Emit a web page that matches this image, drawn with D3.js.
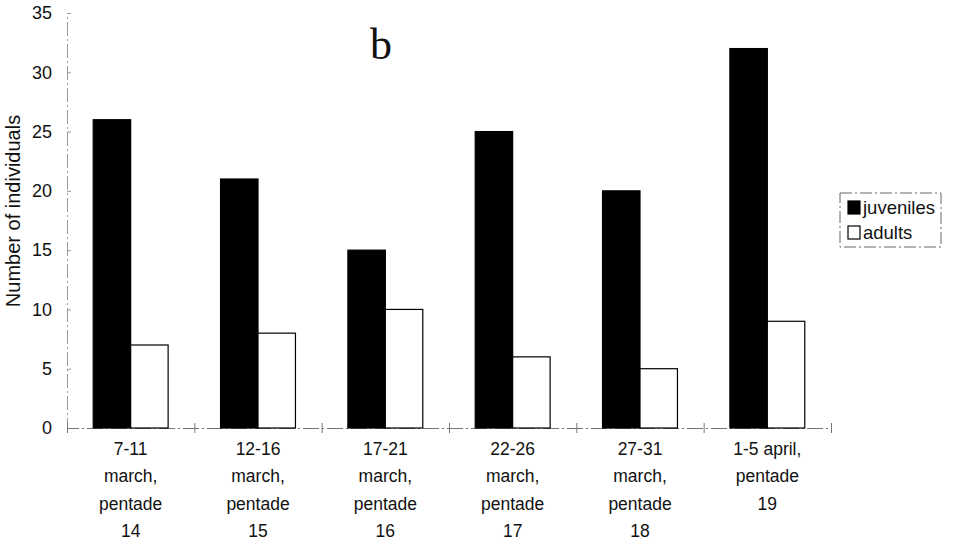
<!DOCTYPE html>
<html>
<head>
<meta charset="utf-8">
<script src="https://cdn.jsdelivr.net/npm/d3@7"></script>
<style>
body { margin: 0; background: #fff; }
svg { display: block; }
text { font-family: "Liberation Sans", Arial, sans-serif; fill: #111; }
</style>
</head>
<body>
<svg id="chart"></svg>
<script>
var width = 955, height = 541;
var categories = [
    ["7-11", "march,", "pentade", "14"],
    ["12-16", "march,", "pentade", "15"],
    ["17-21", "march,", "pentade", "16"],
    ["22-26", "march,", "pentade", "17"],
    ["27-31", "march,", "pentade", "18"],
    ["1-5 april,", "pentade", "19"]
];
var series = ["juveniles", "adults"];
var juveniles = [26, 21, 15, 25, 20, 32];
var adults = [7, 8, 10, 6, 5, 9];
var yTicks = [0, 5, 10, 15, 20, 25, 30, 35];
var fills = {juveniles: "#000", adults: "#fff"};

var m_left = 67, m_right = 831, m_top = 13, m_bottom = 428;

var svg = d3.select("#chart").attr("width", width).attr("height", height);

var keys = categories.map(function(c, i){ return "c" + i; });
var x0 = d3.scaleBand().domain(keys).range([m_left, m_right]).padding(0);
var x1 = d3.scaleBand().domain(series).range([0, x0.bandwidth()])
    .paddingInner(0).paddingOuter(0.7);
var y = d3.scaleLinear().domain([0, 35]).range([m_bottom, m_top]);

var rows = categories.map(function(c, i){
    return {key: keys[i], lines: c, juveniles: juveniles[i], adults: adults[i]};
});

// y axis (ticks point inward, like the scan)
var yAxis = svg.append("g").attr("transform", "translate(" + m_left + ",0)")
    .call(d3.axisLeft(y).tickValues(yTicks).tickSize(-4).tickPadding(15));
yAxis.select(".domain").attr("stroke", "#999").attr("stroke-dasharray", "14,3,2,3");
yAxis.selectAll(".tick line").attr("stroke", "#999");
yAxis.selectAll("text").style("font-size", "18px").style("font-family", "Liberation Sans, Arial, sans-serif").attr("fill", "#111");

// x axis
var xAxis = svg.append("g").attr("transform", "translate(0," + m_bottom + ")")
    .call(d3.axisBottom(d3.scaleLinear().domain([0, 6]).range([m_left, m_right]))
        .tickValues([0, 1, 2, 3, 4, 5, 6]).tickSize(5).tickFormat(""));
xAxis.select(".domain").attr("stroke", "#777").attr("stroke-dasharray", "16,3,2,3");
xAxis.selectAll(".tick line").attr("stroke", "#777").attr("y1", -5);

// bars
var grp = svg.selectAll(".grp").data(rows).enter().append("g")
    .attr("class", "grp")
    .attr("transform", function(d){ return "translate(" + x0(d.key) + ",0)"; });
grp.selectAll("rect")
    .data(function(d){ return series.map(function(s){ return {s: s, v: d[s]}; }); })
    .enter().append("rect")
    .attr("x", function(d){ return x1(d.s); })
    .attr("y", function(d){ return y(d.v); })
    .attr("width", x1.bandwidth())
    .attr("height", function(d){ return m_bottom - y(d.v); })
    .attr("fill", function(d){ return fills[d.s]; })
    .attr("stroke", "#000")
    .attr("stroke-width", 1.2);

// category labels
var lab = svg.selectAll(".lab").data(rows).enter().append("text")
    .attr("class", "lab")
    .attr("text-anchor", "middle")
    .style("font-size", "17.5px")
    .attr("transform", function(d){ return "translate(" + (x0(d.key) + x0.bandwidth()/2) + ",455)"; });
lab.selectAll("tspan").data(function(d){ return d.lines; }).enter().append("tspan")
    .attr("x", 0)
    .attr("y", function(d, i){ return i * 27.3; })
    .text(function(d){ return d; });

// y title
svg.append("text")
    .attr("transform", "translate(20,211) rotate(-90)")
    .attr("text-anchor", "middle")
    .style("font-size", "20px")
    .text("Number of individuals");

// panel letter
svg.append("text")
    .attr("x", 381).attr("y", 59)
    .attr("text-anchor", "middle")
    .style("font-family", "Liberation Serif, Times New Roman, serif")
    .style("font-size", "44px")
    .text("b");

// legend
var lg = svg.append("g").attr("transform", "translate(840,193)");
lg.append("rect").attr("width", 101).attr("height", 54)
    .attr("fill", "none").attr("stroke", "#666").attr("stroke-dasharray", "12,3,2,3");
var item = lg.selectAll(".item").data(series).enter().append("g")
    .attr("class", "item")
    .attr("transform", function(d, i){ return "translate(8," + (8 + i * 25) + ")"; });
item.append("rect").attr("width", 12).attr("height", 13)
    .attr("fill", function(d){ return fills[d]; })
    .attr("stroke", "#000").attr("stroke-width", 1.2);
item.append("text").attr("x", 15).attr("y", 13)
    .style("font-size", "18.5px")
    .text(function(d){ return d; });
</script>
</body>
</html>
